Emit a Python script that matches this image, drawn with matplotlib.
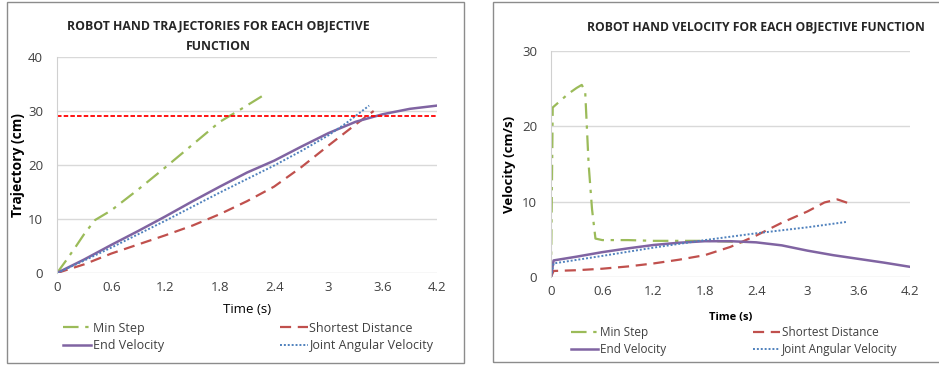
import matplotlib.pyplot as plt
from matplotlib.patches import Rectangle

# Time ticks shared by both charts
time_ticks = [0, 0.6, 1.2, 1.8, 2.4, 3, 3.6, 4.2]
time_labels = ['0', '0.6', '1.2', '1.8', '2.4', '3', '3.6', '4.2']

# Trajectory (cm) per objective function
traj_min_t = [0, 0.1, 0.2, 0.3, 0.42, 0.6, 0.9, 1.2, 1.5, 1.8, 2.0, 2.3]
traj_min_y = [0, 2.3, 4.7, 7.2, 9.8, 11.6, 15.5, 19.6, 23.8, 28.0, 30.0, 33.1]

traj_short_t = [0, 0.3, 0.6, 0.9, 1.2, 1.5, 1.8, 2.1, 2.4, 2.7, 3.0, 3.3, 3.5]
traj_short_y = [0, 1.6, 3.6, 5.3, 7.0, 8.8, 10.9, 13.3, 16.0, 19.6, 23.6, 27.5, 30.0]

traj_end_t = [0, 0.3, 0.6, 0.9, 1.2, 1.5, 1.8, 2.1, 2.4, 2.7, 3.0, 3.3, 3.6, 3.9, 4.2]
traj_end_y = [0, 2.5, 5.2, 7.8, 10.5, 13.3, 16.0, 18.6, 20.8, 23.4, 25.9, 28.0, 29.4, 30.4, 31.0]

traj_joint_t = [0, 0.3, 0.6, 0.9, 1.2, 1.5, 1.8, 2.1, 2.4, 2.7, 3.0, 3.2, 3.45]
traj_joint_y = [0, 2.3, 4.7, 7.2, 9.7, 12.3, 14.9, 17.4, 19.9, 22.6, 25.5, 27.8, 31.0]

target_height = 29

# Velocity (cm/s) per objective function
vel_min_t = [0, 0.02, 0.1, 0.2, 0.3, 0.36, 0.4, 0.44, 0.48, 0.52, 0.6, 0.9, 1.2, 1.5, 1.8, 2.1, 2.25]
vel_min_v = [0, 22.5, 23.3, 24.3, 25.1, 25.5, 24.6, 15.0, 9.0, 5.1, 4.9, 4.9, 4.8, 4.8, 4.8, 4.7, 4.6]

vel_short_t = [0, 0.03, 0.3, 0.6, 0.9, 1.2, 1.5, 1.8, 2.1, 2.4, 2.7, 3.0, 3.2, 3.35, 3.48]
vel_short_v = [0, 0.8, 0.9, 1.1, 1.4, 1.8, 2.3, 2.9, 4.0, 5.5, 7.2, 8.7, 9.9, 10.3, 9.8]

vel_end_t = [0, 0.03, 0.3, 0.6, 0.9, 1.2, 1.5, 1.8, 2.1, 2.4, 2.7, 3.0, 3.3, 3.6, 3.9, 4.2]
vel_end_v = [0, 2.2, 2.7, 3.3, 3.8, 4.25, 4.55, 4.75, 4.75, 4.6, 4.2, 3.5, 2.9, 2.4, 1.9, 1.35]

vel_joint_t = [0, 0.03, 0.6, 1.2, 1.8, 2.4, 3.0, 3.45]
vel_joint_v = [0, 1.8, 2.8, 3.9, 4.9, 5.8, 6.6, 7.3]

GREEN = '#9BBB59'
RED = '#C0504D'
PURPLE = '#8064A2'
BLUE = '#4F81BD'
TEXT = '#404040'

plt.rcParams['font.family'] = ['Open Sans', 'DejaVu Sans']


def style_axes(ax, ymax, ystep):
    ax.set_xlim(0, 4.2)
    ax.set_ylim(0, ymax)
    ax.set_xticks(time_ticks)
    ax.set_xticklabels(time_labels)
    ax.set_yticks(range(0, ymax + 1, ystep))
    ax.grid(axis='y', color='#D9D9D9', linewidth=1.0)
    ax.set_axisbelow(True)
    for side in ['top', 'right', 'bottom']:
        ax.spines[side].set_visible(False)
    ax.spines['left'].set_color('#D0D0D0')
    ax.tick_params(length=0, labelsize=9.5, colors=TEXT)
    ax.tick_params(axis='x', pad=6)
    ax.tick_params(axis='y', pad=10)


def draw_series(ax, data):
    (mt, my), (st, sy), (et, ey), (jt, jy) = data
    l_min, = ax.plot(mt, my, color=GREEN, lw=1.6, dashes=[7, 3, 1.5, 3],
                     label='Min Step')
    l_short, = ax.plot(st, sy, color=RED, lw=1.6, dashes=[5, 3],
                       label='Shortest Distance')
    l_end, = ax.plot(et, ey, color=PURPLE, lw=1.8, label='End Velocity')
    l_joint, = ax.plot(jt, jy, color=BLUE, lw=1.4, dashes=[1, 1],
                       label='Joint Angular Velocity')
    return [l_min, l_end, l_short, l_joint]


fig = plt.figure(figsize=(9.39, 3.66), dpi=100)

# Panel frames
fig.patches.append(Rectangle((7 / 939, 3 / 366), 457 / 939, 361 / 366,
                             transform=fig.transFigure, fill=False,
                             edgecolor='#8C8C8C', lw=1.0))
fig.patches.append(Rectangle((493 / 939, 4 / 366), 460 / 939, 360 / 366,
                             transform=fig.transFigure, fill=False,
                             edgecolor='#8C8C8C', lw=1.0))

# Trajectory chart
ax1 = fig.add_axes([57 / 939, 93 / 366, 380 / 939, 216 / 366])
style_axes(ax1, 40, 10)
handles1 = draw_series(ax1, [(traj_min_t, traj_min_y), (traj_short_t, traj_short_y),
                             (traj_end_t, traj_end_y), (traj_joint_t, traj_joint_y)])
ax1.axhline(target_height, color='#FF0000', lw=1.3, dashes=[2.5, 1.2])
ax1.set_ylabel('Trajectory (cm)', fontsize=10, fontweight='bold', color='black',
               labelpad=2)
ax1.set_xlabel('Time (s)', fontsize=9.5, color='black', labelpad=6)
fig.text(218 / 939, 1 - 36.5 / 366,
         'ROBOT HAND TRAJECTORIES FOR EACH OBJECTIVE\nFUNCTION',
         ha='center', va='center', fontsize=8.8, fontweight='bold',
         color='#262626', linespacing=1.75)
fig.legend(handles=handles1, ncol=2, loc='center left',
           bbox_to_anchor=(52 / 939, 1 - 337 / 366), frameon=False,
           fontsize=9, handlelength=2.2, handletextpad=0.15,
           columnspacing=9.3, labelspacing=0.35, labelcolor=TEXT)

# Velocity chart
ax2 = fig.add_axes([551 / 939, 89 / 366, 359 / 939, 226 / 366])
style_axes(ax2, 30, 10)
handles2 = draw_series(ax2, [(vel_min_t, vel_min_v), (vel_short_t, vel_short_v),
                             (vel_end_t, vel_end_v), (vel_joint_t, vel_joint_v)])
ax2.set_ylabel('Velocity (cm/s)', fontsize=9.5, fontweight='bold', color='black',
               labelpad=4)
ax2.set_xlabel('Time (s)', fontsize=8, fontweight='bold', color='black',
               labelpad=10)
fig.text(756 / 939, 1 - 27 / 366,
         'ROBOT HAND VELOCITY FOR EACH OBJECTIVE FUNCTION',
         ha='center', va='center', fontsize=8.75, fontweight='bold', color='#262626')
fig.legend(handles=handles2, ncol=2, loc='center left',
           bbox_to_anchor=(560 / 939, 1 - 341 / 366), frameon=False,
           fontsize=8.5, handlelength=2.3, handletextpad=0.15,
           columnspacing=7.4, labelspacing=0.4, labelcolor=TEXT)

fig.savefig('out.png', dpi=100)
